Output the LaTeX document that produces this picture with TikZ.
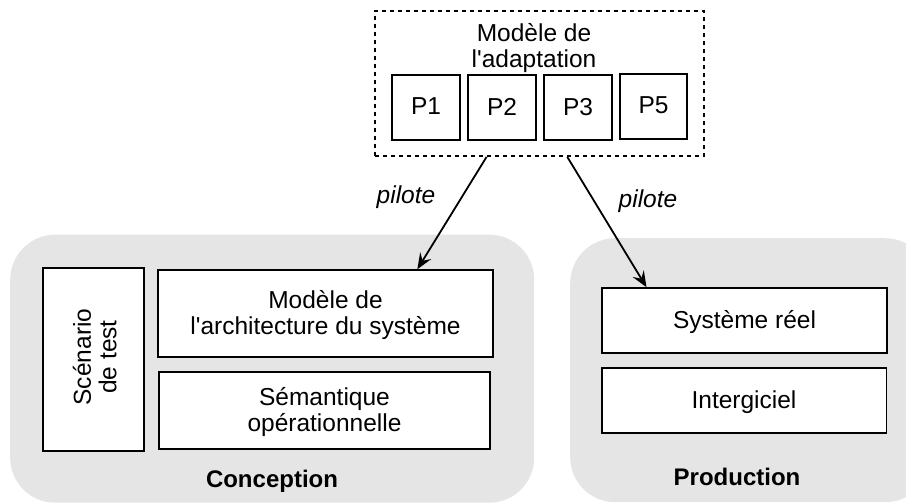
\documentclass[tikz,border=0pt]{standalone}
\usepackage{fontspec}
\setmainfont{Liberation Sans}[Ligatures=TeXOff]
\usetikzlibrary{calc,arrows.meta}
\definecolor{zone}{RGB}{229,229,229}
\tikzset{
  x=1pt,y=-1pt,
  txt/.style={font=\fontsize{24.5}{25.5}\selectfont,align=center,inner sep=0pt,text=black},
  boxn/.style={txt,draw=black,line width=1.5pt,fill=white,minimum width=#1,anchor=center,text depth=2pt},
  zonebox/.style={fill=zone,draw=none,rounded corners=45pt,inner sep=0pt,anchor=north west},
  title/.style={font=\fontsize{24}{25}\selectfont\bfseries,inner sep=0pt,text=black},
  lab/.style={font=\fontsize{24.5}{25}\selectfont\itshape,inner sep=0pt,text=black},
  conn/.style={draw=black,line width=1.8pt,-{Stealth[length=16pt,width=13pt,inset=6pt]}}
}
\begin{document}
\begin{tikzpicture}
\useasboundingbox (0,0) rectangle (906,503);
\node[zonebox,minimum width=524pt,minimum height=268pt] (zc) at (10,234.5) {};
\begin{scope}
\clip (0,0) rectangle (906,503);
\node[zonebox,minimum width=360pt,minimum height=264pt] (zp) at (570,238) {};
\end{scope}
\node[txt,draw=black,line width=1.8pt,dashed,dash pattern=on 4pt off 4pt,minimum width=329pt,minimum height=145pt] (adapt) at (539.5,83.5) {};
\node[txt,text depth=1pt] (adaptt) at (534,46) {Modèle de\\l'adaptation};
\node[boxn=68pt,minimum height=65pt] (p1) at (426,107.5) {P1};
\node[boxn=68pt,minimum height=65pt] (p2) at (502,107.5) {P2};
\node[boxn=68pt,minimum height=65pt] (p3) at (578,107.5) {P3};
\node[boxn=67pt,minimum height=65pt] (p5) at (653.5,106.5) {P5};
\node[boxn=101pt,minimum height=183pt] (scen) at (93.5,359.5) {};
\node[txt,rotate=90,text depth=1pt] (scent) at (95,357) {Scénario\\de test};
\node[boxn=335pt,minimum height=87pt] (arch) at (325.5,313.5) {Modèle de\\l'architecture du système};
\node[boxn=331pt,minimum height=77pt] (sem) at (324.5,410.5) {Sémantique\\opérationnelle};
\node[boxn=285pt,minimum height=65pt] (reel) at (744.5,320.5) {Système réel};
\node[boxn=284.5pt,minimum height=65pt] (inter) at (744,400.5) {Intergiciel};
\node[title] (conc) at (272,481) {Conception};
\node[title] (prod) at (737,477) {Production};
\node[lab] (pil1) at (406,197) {pilote};
\node[lab] (pil2) at (648,201) {pilote};
\draw[conn] ($(adapt.south west)!0.34!(adapt.south east)$) -- ($(arch.north west)!0.773!(arch.north east)$);
\draw[conn] ($(adapt.south west)!0.584!(adapt.south east)$) -- ($(reel.north west)!0.158!(reel.north east)$);
\end{tikzpicture}
\end{document}
